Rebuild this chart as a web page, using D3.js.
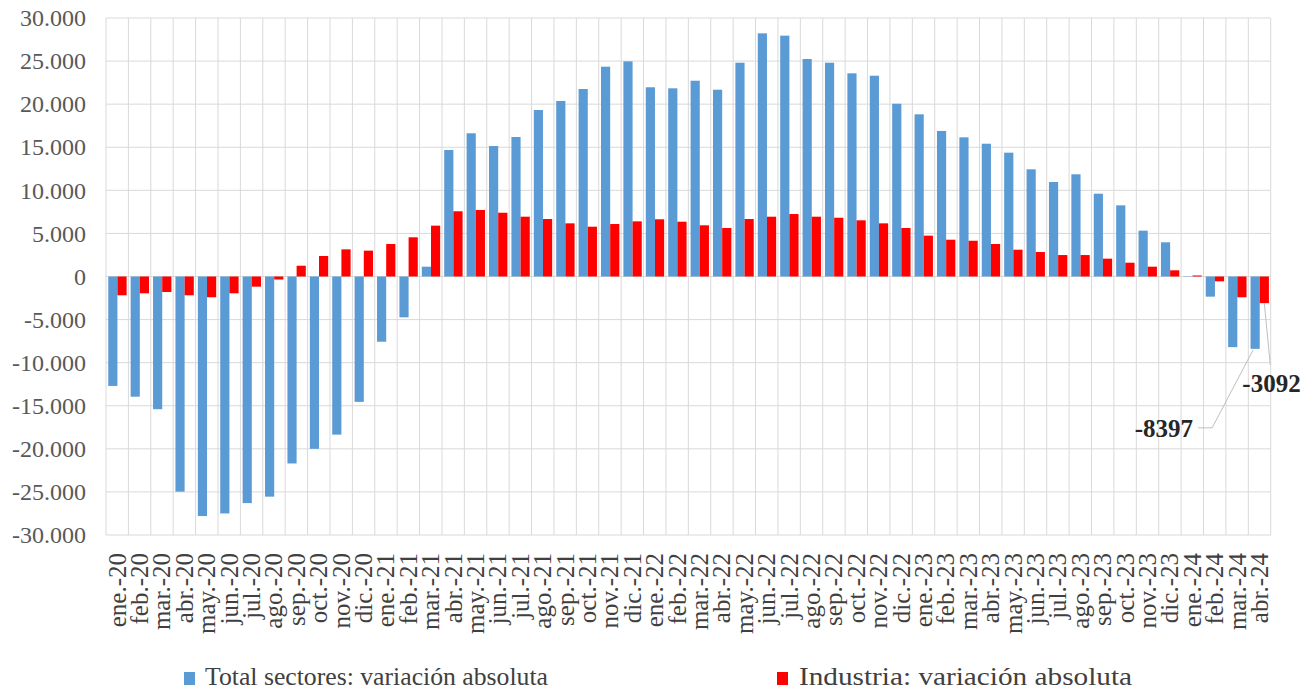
<!DOCTYPE html>
<html>
<head>
<meta charset="utf-8">
<script src="https://cdn.jsdelivr.net/npm/d3@7"></script>
<style>
  html, body { margin: 0; padding: 0; background: #fff; }
  svg { display: block; }
</style>
</head>
<body>
<svg id="chart" width="1302" height="689"></svg>
<script>
const categories = [
  "ene.-20","feb.-20","mar.-20","abr.-20","may.-20","jun.-20","jul.-20","ago.-20","sep.-20","oct.-20","nov.-20","dic.-20",
  "ene.-21","feb.-21","mar.-21","abr.-21","may.-21","jun.-21","jul.-21","ago.-21","sep.-21","oct.-21","nov.-21","dic.-21",
  "ene.-22","feb.-22","mar.-22","abr.-22","may.-22","jun.-22","jul.-22","ago.-22","sep.-22","oct.-22","nov.-22","dic.-22",
  "ene.-23","feb.-23","mar.-23","abr.-23","may.-23","jun.-23","jul.-23","ago.-23","sep.-23","oct.-23","nov.-23","dic.-23",
  "ene.-24","feb.-24","mar.-24","abr.-24"
];
const totalSectores = [
  -12700, -13950, -15400, -24970, -27800, -27500, -26300, -25550, -21700, -20000, -18350, -14550,
  -7570, -4740, 1140, 14680, 16620, 15140, 16190, 19320, 20370, 21760, 24350, 24970,
  21960, 21840, 22720, 21680, 24810, 28220, 27950, 25240, 24810, 23580, 23300, 20050,
  18820, 16890, 16150, 15410, 14370, 12440, 10970, 11860, 9610, 8260, 5320, 3970,
  40, -2340, -8200, -8397
];
const industria = [
  -2180, -1950, -1800, -2180, -2410, -1950, -1180, -350, 1250, 2380, 3150, 3000,
  3770, 4550, 5900, 7570, 7720, 7400, 6940, 6670, 6170, 5780, 6090, 6400,
  6640, 6360, 5940, 5630, 6670, 6940, 7250, 6940, 6820, 6520, 6170, 5630,
  4740, 4270, 4150, 3770, 3110, 2840, 2490, 2490, 2070, 1600, 1140, 720,
  120, -560, -2410, -3092
];
const seriesNames = ["Total sectores: variación absoluta", "Industria: variación absoluta"];
const seriesColors = ["#5B9BD5", "#FF0000"];
const yTicks = [-30000, -25000, -20000, -15000, -10000, -5000, 0, 5000, 10000, 15000, 20000, 25000, 30000];
const annotations = [
  { series: 0, category: "abr.-24" },
  { series: 1, category: "abr.-24" }
];

const seriesData = [totalSectores, industria];
const svg = d3.select("#chart");
const margin = { left: 106, right: 1302 - 1270.7, top: 18, bottom: 689 - 535 };
const W = 1302, H = 689;
const FONT = "'Palatino Linotype','Book Antiqua',Palatino,'Liberation Serif',serif";

const x0 = d3.scaleBand().domain(categories).range([margin.left, W - margin.right]).padding(0);
const x1 = d3.scaleBand().domain([0, 1]).range([x0.bandwidth() * 0.10, x0.bandwidth() * 0.92]).padding(0);
const y = d3.scaleLinear().domain([-30000, 30000]).range([H - margin.bottom, margin.top]);

const loc = d3.formatLocale({ decimal: ",", thousands: ".", grouping: [3], currency: ["", ""], minus: "-" });
const fmt = loc.format(",d");

// gridlines
const grid = svg.append("g").attr("stroke", "#d9d9d9").attr("stroke-width", 1);
grid.selectAll("line.h").data(yTicks).join("line")
  .attr("x1", margin.left).attr("x2", W - margin.right)
  .attr("y1", d => y(d)).attr("y2", d => y(d));
const bounds = categories.map(c => x0(c)).concat([x0(categories[categories.length - 1]) + x0.bandwidth()]);
grid.selectAll("line.v").data(bounds).join("line")
  .attr("x1", d => d).attr("x2", d => d)
  .attr("y1", y(30000)).attr("y2", y(-30000));

// y axis labels
const yAxis = d3.axisLeft(y).tickValues(yTicks).tickFormat(fmt).tickSize(0).tickPadding(20);
const ya = svg.append("g").attr("transform", `translate(${margin.left},0)`).call(yAxis);
ya.select(".domain").remove();
ya.selectAll("text").attr("font-family", FONT).attr("font-size", 24).attr("fill", "#595959");

// bars
seriesData.forEach((vals, si) => {
  svg.append("g").attr("fill", seriesColors[si])
    .selectAll("rect").data(vals).join("rect")
    .attr("x", (d, i) => x0(categories[i]) + x1(si))
    .attr("width", x1.bandwidth())
    .attr("y", d => y(Math.max(0, d)))
    .attr("height", d => Math.abs(y(d) - y(0)));
});

// x axis labels
const xAxis = d3.axisBottom(x0).tickSize(0).tickPadding(0);
const xa = svg.append("g").attr("transform", `translate(0,${H - margin.bottom})`).call(xAxis);
xa.select(".domain").remove();
xa.selectAll("text")
  .attr("font-family", FONT).attr("font-size", 25).attr("fill", "#404040")
  .attr("text-anchor", "end")
  .attr("transform", "translate(0,18) rotate(-90)")
  .attr("x", 0).attr("y", 0).attr("dy", "0.34em");

// annotations
const ann = svg.append("g");
annotations.forEach((a, k) => {
  const i = categories.indexOf(a.category);
  const v = seriesData[a.series][i];
  const bx = x0(a.category) + x1(a.series) + x1.bandwidth() / 2;
  const by = y(v);
  if (k === 0) {
    ann.append("polyline")
      .attr("points", `${bx - 2},${by + 1} ${bx - 43},${by + 79} ${bx - 57},${by + 79}`)
      .attr("fill", "none").attr("stroke", "#bfbfbf").attr("stroke-width", 1);
    ann.append("text").attr("x", bx - 62).attr("y", by + 79).attr("dy", "0.35em")
      .attr("text-anchor", "end").attr("font-family", FONT).attr("font-size", 25)
      .attr("font-weight", "bold").attr("fill", "#262626").text(v);
  } else {
    ann.append("line")
      .attr("x1", bx).attr("y1", by).attr("x2", bx + 6).attr("y2", by + 62)
      .attr("stroke", "#bfbfbf").attr("stroke-width", 1);
    ann.append("text").attr("x", bx - 22).attr("y", by + 80).attr("dy", "0.35em")
      .attr("text-anchor", "start").attr("font-family", FONT).attr("font-size", 25)
      .attr("font-weight", "bold").attr("fill", "#262626").text(v);
  }
});

// legend
const legendX = [184, 777];
const legendW = [343, 333];
const lg = svg.append("g").selectAll("g").data(seriesNames).join("g")
  .attr("transform", (d, i) => `translate(${legendX[i]},0)`);
lg.append("rect").attr("x", 0).attr("y", 672).attr("width", 11).attr("height", 13)
  .attr("fill", (d, i) => seriesColors[i]);
lg.append("text").attr("x", (d, i) => i === 0 ? 21 : 22).attr("y", 685)
  .attr("font-family", FONT).attr("font-size", 25).attr("fill", "#404040")
  .attr("textLength", (d, i) => legendW[i]).attr("lengthAdjust", "spacingAndGlyphs")
  .text(d => d);
</script>
</body>
</html>
